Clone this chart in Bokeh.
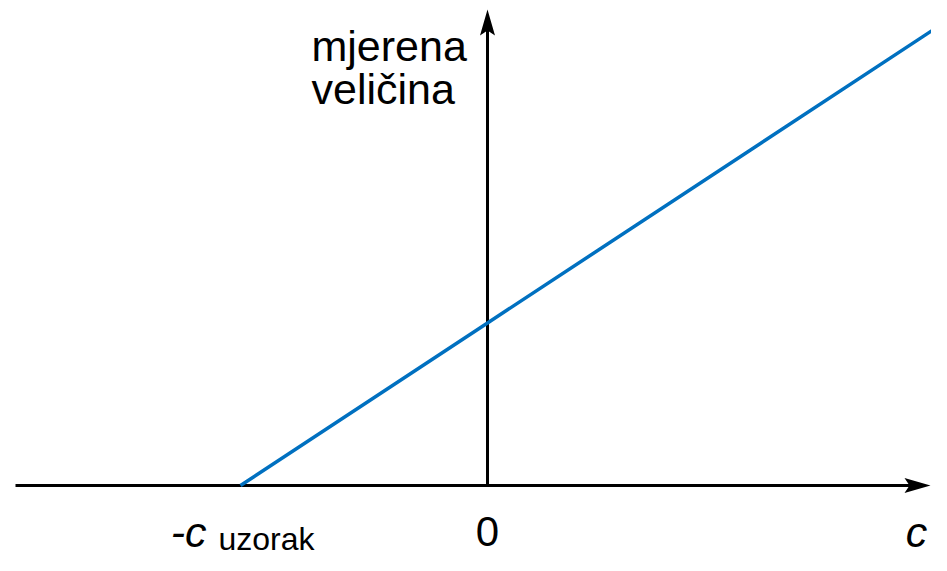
from bokeh.plotting import figure
from bokeh.models import Range1d
from bokeh.core.properties import value
from bokeh.embed import file_html
from bokeh.resources import INLINE

# ---- data ----
c_values = [-1.0, 0.0, 1.9]        # concentration c (units of c_uzorak)
signal = [0.0, 1.0, 2.9]           # measured quantity
tick_x = [-1.0, 0.0]
x_axis_label = "c"
y_axis_label = ["mjerena", "veličina"]

BLUE = "#0070C0"
FONT = "Liberation Sans"

W, H = 931, 555
# pixel scale of the drawing (data units per pixel)
UX = 1 / 247.0
UY = 1 / 162.5
X0 = 487          # pixel position of c = 0
Y0 = 485          # pixel position of signal = 0 (from top)

p = figure(width=W, height=H, output_backend="svg", toolbar_location=None,
           x_range=Range1d(-X0 * UX, (W - X0) * UX),
           y_range=Range1d(-(H - Y0) * UY, Y0 * UY),
           x_axis_type=None, y_axis_type=None, min_border=0)
p.outline_line_color = None
p.grid.visible = False
p.background_fill_color = "white"
p.border_fill_color = "white"

x_min, x_tip = -472 * UX, 443 * UX
y_tip = (Y0 - 9) * UY

# axes lines
p.line([x_min, x_tip - 20 * UX], [0, 0], line_color="black", line_width=3)
p.line([0, 0], [0, y_tip - 20 * UY], line_color="black", line_width=3)

# arrow heads (vee shape)
hl, hw, notch = 26, 7.5, 5
p.patch([x_tip, x_tip - hl * UX, x_tip - (hl - notch) * UX, x_tip - hl * UX],
        [0, hw * UY, 0, -hw * UY], color="black", line_width=0)
p.patch([0, hw * UX, 0, -hw * UX],
        [y_tip, y_tip - hl * UY, y_tip - (hl - notch) * UY, y_tip - hl * UY],
        color="black", line_width=0)

# calibration line
p.line(c_values, signal, line_color=BLUE, line_width=3.5)

# tick labels
p.text(x=[tick_x[1]], y=[0], text=["0"], text_font=value(FONT), text_font_size="42px",
       text_align="center", text_baseline="alphabetic", y_offset=46, text_color="black")
p.text(x=[tick_x[0]], y=[0], text=["-c"], text_font=value(FONT), text_font_size="43px",
       text_font_style="italic", text_align="right", text_baseline="alphabetic",
       x_offset=-34, y_offset=46, text_color="black")
p.text(x=[tick_x[0]], y=[0], text=["uzorak"], text_font=value(FONT), text_font_size="32px",
       text_align="left", text_baseline="alphabetic", x_offset=-22, y_offset=53,
       text_color="black")

# axis labels
p.text(x=[429 * UX], y=[0], text=[x_axis_label], text_font=value(FONT), text_font_size="43px",
       text_font_style="italic", text_align="center", text_baseline="alphabetic",
       y_offset=46, text_color="black")
p.text(x=[0, 0], y=[(Y0 - 45) * UY, (Y0 - 88) * UY], text=y_axis_label, text_font=value(FONT),
       text_font_size="43px", text_align="left", text_baseline="alphabetic",
       x_offset=-176, text_color="black")

open("out.html", "w").write(file_html(p, INLINE))
